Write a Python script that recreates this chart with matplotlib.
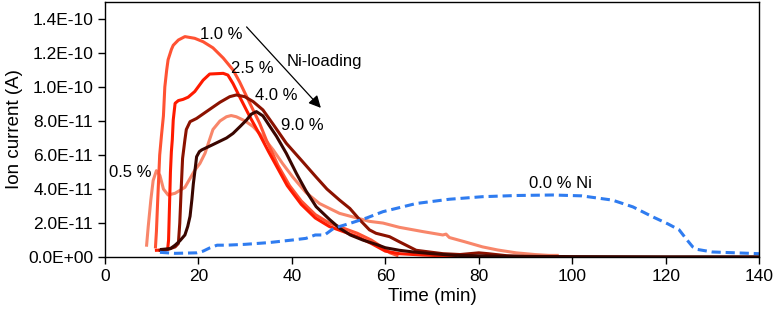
import matplotlib
matplotlib.use('Agg')
import matplotlib.pyplot as plt
from matplotlib.ticker import FuncFormatter, MultipleLocator

plt.rcParams['font.family'] = ['Liberation Sans', 'DejaVu Sans']

# time (min) / ion current (units of 1E-11 A)
t_05 = [8.9, 9.25, 9.8, 10.3, 11.0, 11.75, 12.5, 13.5, 15, 17.1, 19.2, 20.3, 21.4, 23.1, 24.6, 26, 27,
        28.1, 30, 31.7, 34, 36, 38, 40.2, 43, 45.9, 50.2, 56.6, 59.5, 63, 68, 72.3, 73, 73.7, 77, 80.8,
        84, 88, 92, 95, 96.8]
i_05 = [0.7, 1.8, 3.35, 4.5, 5.08, 4.8, 4.0, 3.65, 3.75, 4.1, 5.1, 5.5, 6.1, 7.5, 8.0, 8.25, 8.32,
        8.25, 8.0, 7.67, 7.0, 6.3, 5.5, 4.7, 3.8, 3.15, 2.57, 2.1, 2.0, 1.75, 1.5, 1.3, 1.35, 1.15, 0.9, 0.6,
        0.42, 0.25, 0.15, 0.1, 0.1]

t_10 = [10.8, 11.0, 11.3, 11.7, 12.1, 12.5, 12.8, 13.2, 13.5, 14.2, 14.6, 15.7, 17.1, 19.2, 21, 23.1,
        25.3, 27.4, 28.8, 31, 33.1, 34.5, 37, 39.5, 42, 45, 48, 51, 54, 57, 59.5, 61, 62.5]
i_10 = [0.6, 1.5, 3.5, 6.0, 7.2, 8.3, 10.0, 11.0, 11.6, 12.2, 12.45, 12.76, 12.96, 12.86, 12.66, 12.3,
        11.7, 11.0, 10.3, 9.04, 7.86, 6.9, 5.4, 4.2, 3.3, 2.5, 2.0, 1.7, 1.4, 1.0, 0.55, 0.25, 0.1]

t_25 = [11.0, 12.5, 13.4, 13.6, 13.8, 14.0, 14.2, 14.4, 14.6, 15.0, 15.7, 16.7, 17.8, 19.2, 21, 22.4,
        25.3, 26.3, 27.4, 28.8, 31, 33.1, 35, 37, 39, 42, 45, 48, 51, 54, 57, 60, 63, 68, 75]
i_25 = [0.4, 0.42, 0.45, 1.0, 3.0, 5.0, 6.2, 6.9, 8.06, 9.04, 9.2, 9.27, 9.4, 9.73, 10.4, 10.76,
        10.8, 10.7, 10.2, 9.43, 8.25, 7.2, 6.2, 5.2, 4.2, 3.1, 2.3, 1.8, 1.5, 1.2, 0.8, 0.35, 0.2, 0.12, 0.05]

t_40 = [11.8, 13, 14, 15, 15.7, 16.0, 16.3, 16.6, 17.1, 17.4, 18.2, 19.6, 21.7, 24.6, 26.7, 28.1, 29.9,
        31.7, 33.8, 36, 38.8, 42, 45.2, 47.5, 50.2, 52.4, 54.5, 56.6, 58, 60.9, 63, 66.6, 72.3, 76, 80, 82,
        86, 90]
i_40 = [0.4, 0.42, 0.5, 0.6, 0.8, 2.0, 4.0, 5.8, 6.9, 7.5, 7.96, 8.15, 8.55, 9.1, 9.43, 9.53, 9.43,
        9.14, 8.65, 7.8, 6.69, 5.7, 4.7, 4.0, 3.35, 2.86, 2.2, 1.6, 1.4, 1.2, 0.9, 0.4, 0.2, 0.15, 0.25, 0.2,
        0.08, 0.03]

t_90 = [12.1, 14, 15, 16, 17.1, 17.7, 18.2, 18.6, 18.9, 19.3, 19.6, 20.2, 20.7, 23, 26, 27.4, 29,
        30.3, 31.3, 32.4, 33.8, 35, 36.7, 38.8, 41, 43, 45.2, 48.1, 50.2, 52.5, 55.2, 58, 60, 63, 66,
        70, 75, 85, 100, 120, 140]
i_90 = [0.45, 0.5, 0.7, 0.95, 1.3, 1.8, 2.4, 3.4, 4.3, 5.2, 5.9, 6.2, 6.3, 6.6, 7.0, 7.27, 7.7,
        8.06, 8.4, 8.55, 8.3, 7.8, 7.1, 6.1, 4.9, 3.9, 2.96, 2.2, 1.7, 1.3, 1.0, 0.75, 0.55, 0.4, 0.3,
        0.2, 0.1, 0.05, 0.03, 0.02, 0.02]

t_00 = [11.75, 15, 19.6, 21, 22.5, 24, 26, 30, 35, 40, 43, 45, 47, 49, 52.4, 56, 59.5, 66.6, 73.7,
        80.8, 88, 95.8, 102, 108.6, 113, 117.2, 120.5, 122.9, 124.6, 125.8, 126.8, 130, 135, 140]
i_00 = [0.28, 0.22, 0.25, 0.35, 0.55, 0.7, 0.7, 0.75, 0.85, 1.0, 1.1, 1.3, 1.3, 1.7, 1.98, 2.3, 2.67,
        3.15, 3.4, 3.55, 3.62, 3.65, 3.6, 3.35, 2.95, 2.37, 1.95, 1.6, 1.0, 0.6, 0.45, 0.3, 0.25, 0.2]

scale = 1e-11

fig = plt.figure(figsize=(7.74, 3.17), dpi=100)
ax = fig.add_axes([0.1357, 0.189, 0.845, 0.805])

ax.plot(t_05, [v * scale for v in i_05], color='#F8866A', lw=2.2)
ax.plot(t_10, [v * scale for v in i_10], color='#FF5233', lw=2.2)
ax.plot(t_25, [v * scale for v in i_25], color='#FF1A00', lw=2.2)
ax.plot(t_40, [v * scale for v in i_40], color='#8B1200', lw=2.2)
ax.plot(t_90, [v * scale for v in i_90], color='#3A0600', lw=2.2)
ax.plot(t_00, [v * scale for v in i_00], color='#2F7CF0', lw=2.2, ls=(0, (3, 1.6)))

ax.set_xlim(0, 140)
ax.set_ylim(0, 1.5e-10)
ax.xaxis.set_major_locator(MultipleLocator(20))
ax.set_yticks([k * 2e-11 for k in range(8)])
ax.yaxis.set_major_formatter(FuncFormatter(lambda v, p: '%.1E' % v))
ax.tick_params(labelsize=12.5, length=5, width=1, direction='out')
for s in ax.spines.values():
    s.set_linewidth(1)
ax.set_xlabel('Time (min)', fontsize=13.5, labelpad=3)
ax.set_ylabel('Ion current (A)', fontsize=13.5, labelpad=4)

fs = 12
ax.text(24.8, 13.06e-11, '1.0 %', fontsize=fs, ha='center', va='center')
ax.text(31.6, 11.1e-11, '2.5 %', fontsize=fs, ha='center', va='center')
ax.text(36.7, 9.5e-11, '4.0 %', fontsize=fs, ha='center', va='center')
ax.text(42.3, 7.76e-11, '9.0 %', fontsize=fs, ha='center', va='center')
ax.text(5.5, 5.0e-11, '0.5 %', fontsize=fs, ha='center', va='center')
ax.text(47.0, 11.5e-11, 'Ni-loading', fontsize=fs, ha='center', va='center')
ax.text(97.4, 4.33e-11, '0.0 % Ni', fontsize=fs, ha='center', va='center')
ax.annotate('', xy=(46.6, 8.65e-11), xytext=(29.9, 13.65e-11),
            arrowprops=dict(arrowstyle='-|>', color='black', lw=0.9, mutation_scale=18))

fig.savefig('out.png', dpi=100)
